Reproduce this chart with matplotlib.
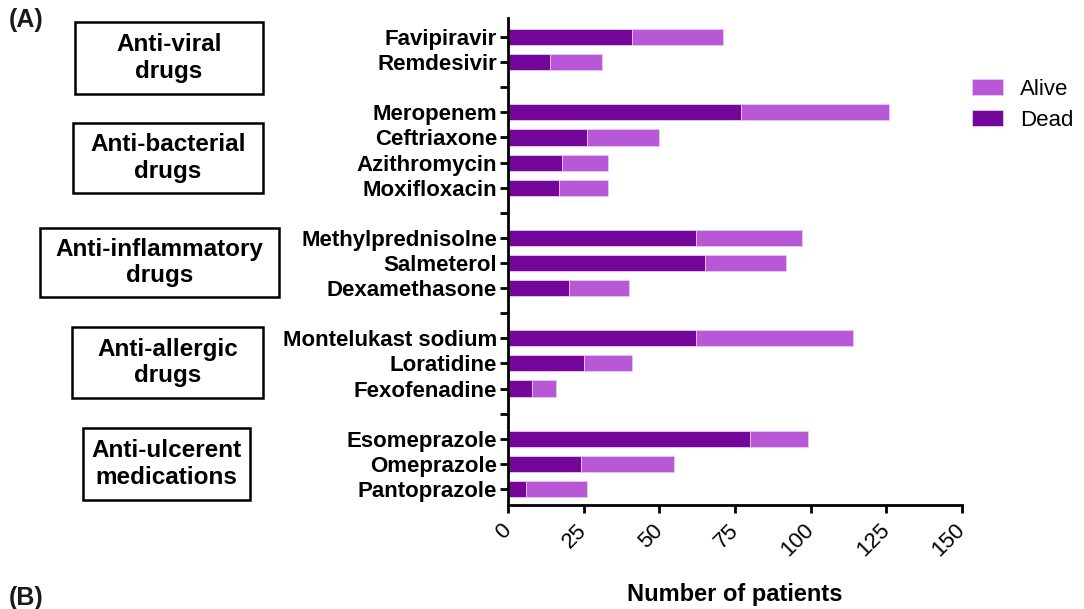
import matplotlib
matplotlib.use("Agg")
import matplotlib.pyplot as plt
from matplotlib.patches import Rectangle

# ---- data ----
drugs = ["Favipiravir", "Remdesivir", "",
         "Meropenem", "Ceftriaxone", "Azithromycin", "Moxifloxacin", "",
         "Methylprednisolne", "Salmeterol", "Dexamethasone", "",
         "Montelukast sodium", "Loratidine", "Fexofenadine", "",
         "Esomeprazole", "Omeprazole", "Pantoprazole"]
dead = [41, 14, None, 77, 26, 18, 17, None, 62, 65, 20, None, 62, 25, 8, None, 80, 24, 6]
total = [71, 31, None, 126, 50, 33, 33, None, 97, 92, 40, None, 114, 41, 16, None, 99, 55, 26]
groups = ["Anti-viral\ndrugs", "Anti-bacterial\ndrugs", "Anti-inflammatory\ndrugs",
          "Anti-allergic\ndrugs", "Anti-ulcerent\nmedications"]
xticks = [0, 25, 50, 75, 100, 125, 150]

c_dead = "#74069A"
c_alive = "#B958D6"

plt.rcParams['font.family'] = ['Liberation Sans', 'DejaVu Sans']

fig = plt.figure(figsize=(10.84, 6.09), dpi=100)
W, H = 1084, 609
ax = fig.add_axes([508 / W, 1 - 505 / H, (962 - 508) / W, (505 - 18) / H])

pos = list(range(len(drugs)))
for i, (d, t) in enumerate(zip(dead, total)):
    if d is None:
        continue
    ax.barh(i, d, height=0.64, color=c_dead, edgecolor="#E8C8F2", linewidth=0.6,
            label="Dead" if i == 0 else None, zorder=2)
    ax.barh(i, t - d, left=d, height=0.64, color=c_alive, edgecolor="#E8C8F2", linewidth=0.6,
            label="Alive" if i == 0 else None, zorder=2)

ax.set_ylim(18.64, -0.76)
ax.set_xlim(0, 150)
ax.set_yticks(pos)
ax.set_yticklabels(drugs, fontsize=16, fontweight="bold")
ax.set_xticks(xticks)
ax.set_xticklabels([str(x) for x in xticks], fontsize=16, rotation=45,
                   ha="right", va="center", rotation_mode="anchor")
ax.tick_params(axis="x", length=6, width=2, pad=10)
ax.tick_params(axis="y", length=6, width=2, pad=2)
for s in ["top", "right"]:
    ax.spines[s].set_visible(False)
for s in ["left", "bottom"]:
    ax.spines[s].set_linewidth(2)
ax.set_xlabel("Number of patients", fontsize=17, fontweight="bold", labelpad=16)

handles, labels = ax.get_legend_handles_labels()
order = [labels.index("Alive"), labels.index("Dead")]
fig.legend([handles[k] for k in order], [labels[k] for k in order],
           loc="upper left", bbox_to_anchor=(972 / W, 1 - 79 / H),
           bbox_transform=fig.transFigure, frameon=False,
           fontsize=16, handlelength=1.4, handleheight=0.75, handletextpad=0.75,
           labelspacing=0.45, borderpad=0.0, borderaxespad=0.0)

# group boxes (pixel coords x0, y0, x1, y1)
boxes = [(75, 22, 263, 94), (73, 123, 263, 193), (40, 228, 279, 297),
         (72, 327, 263, 398), (83, 428, 250, 500)]
for (x0, y0, x1, y1), g in zip(boxes, groups):
    fig.patches.append(Rectangle((x0 / W, 1 - y1 / H), (x1 - x0) / W, (y1 - y0) / H,
                                 transform=fig.transFigure, fill=False,
                                 edgecolor="black", linewidth=1.8))
    fig.text((x0 + x1) / 2 / W, 1 - (y0 + y1) / 2 / H, g, ha="center", va="center",
             fontsize=17.5, fontweight="bold", linespacing=1.2)

fig.text(9 / W, 1 - 20 / H, "(A)", fontsize=18, fontweight="bold", va="center", ha="left",
         color="#1a1a1a")
fig.text(9 / W, 1 - 598 / H, "(B)", fontsize=18, fontweight="bold", va="center", ha="left",
         color="#1a1a1a")

fig.savefig("out.png", dpi=100)
